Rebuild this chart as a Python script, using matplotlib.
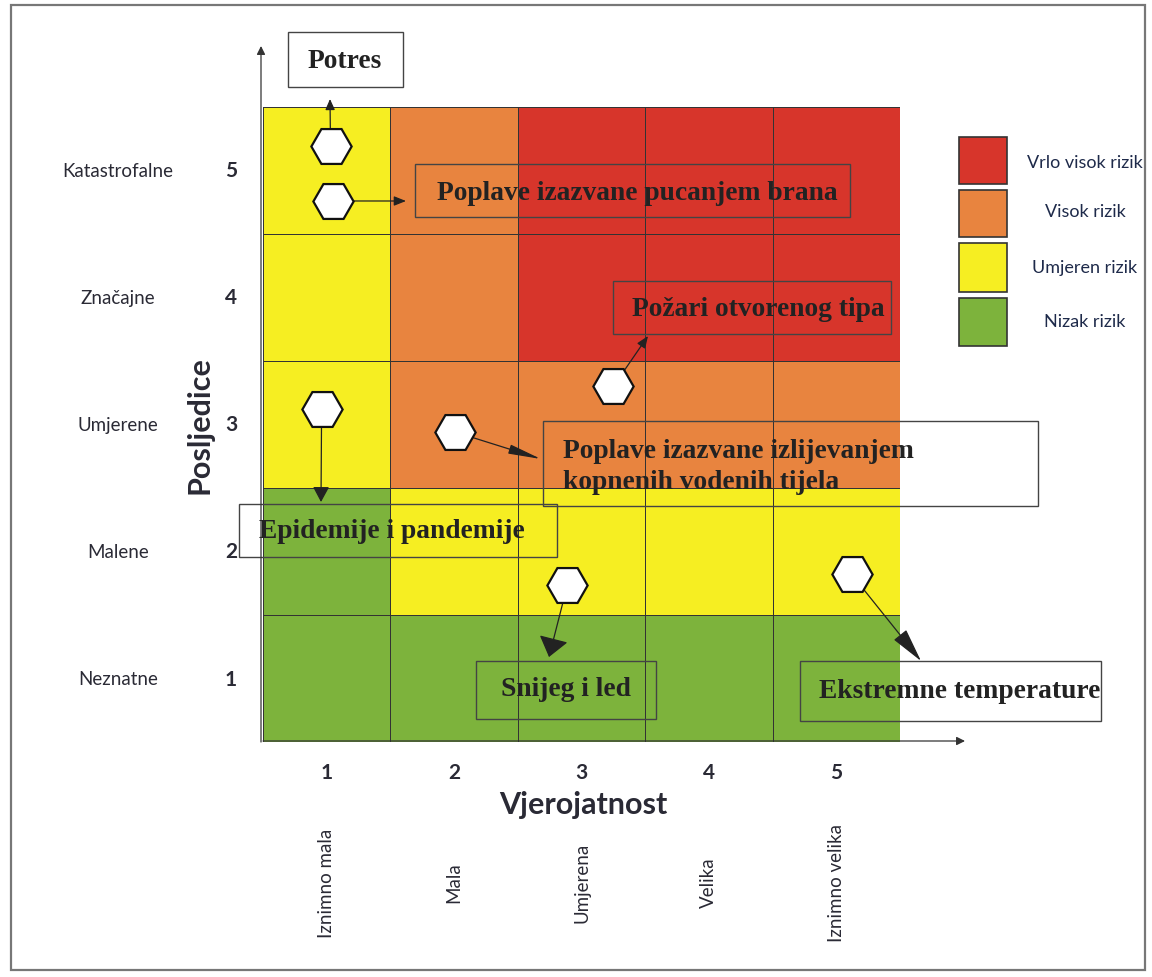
import numpy as np
import matplotlib.pyplot as plt
from matplotlib.colors import ListedColormap
from matplotlib.patches import Rectangle
from matplotlib.transforms import blended_transform_factory

# --- podaci ---
vjerojatnost = [1, 2, 3, 4, 5]
vjerojatnost_opis = ['Iznimno mala', 'Mala', 'Umjerena', 'Velika', 'Iznimno velika']
posljedice = [1, 2, 3, 4, 5]
posljedice_opis = ['Neznatne', 'Malene', 'Umjerene', 'Značajne', 'Katastrofalne']

# razina rizika po celiji (redovi = posljedice 1..5, stupci = vjerojatnost 1..5)
razina = [
    [0, 0, 0, 0, 0],
    [0, 1, 1, 1, 1],
    [1, 2, 2, 2, 2],
    [1, 2, 3, 3, 3],
    [1, 2, 3, 3, 3],
]
razine_naziv = ['Nizak rizik', 'Umjeren rizik', 'Visok rizik', 'Vrlo visok rizik']
razine_boja = ['#7db33c', '#f6ee22', '#e8843f', '#d7352b']

rizici = ['Potres', 'Poplave izazvane pucanjem brana', 'Požari otvorenog tipa',
          'Epidemije i pandemije',
          'Poplave izazvane izlijevanjem\nkopnenih vodenih tijela',
          'Snijeg i led', 'Ekstremne temperature']
rizik_x = [1.03, 1.05, 3.25, 0.96, 2.01, 2.89, 5.12]
rizik_y = [5.19, 4.76, 3.30, 3.12, 2.94, 1.74, 1.82]

# --- raspored (pikseli slike) ---
# okvir (x0, y0, x1, y1), polozaj teksta, poravnanje, vrh strelice, glava (duljina, pola sirine)
okviri = [
    ((288, 33, 403, 88), (345, 61), 'center', (330, 100), (9, 4)),
    ((415, 165, 850, 218), (637, 193), 'center', (406, 202), (10, 4)),
    ((613, 282, 891, 335), (758, 310), 'center', (648, 337), (10, 4)),
    ((239, 505, 557, 558), (392, 532), 'center', (321, 503), (13, 7)),
    ((543, 422, 1038, 507), (563, 467), 'left', (541, 460), (28, 4)),
    ((476, 662, 656, 720), (566, 690), 'center', (549, 658), (17, 13)),
    ((800, 662, 1101, 722), (960, 691), 'center', (921, 662), (30, 7)),
]

sans = 'Lato'
serif = 'Liberation Serif'
tamna = '#222222'
siva_tekst = '#2a2a35'

fig = plt.figure(figsize=(11.52, 9.78), dpi=100)
W, H = 1152, 978

ax = fig.add_axes([263 / W, 1 - 743 / H, 637 / W, 635 / H])
ov = fig.add_axes([0, 0, 1, 1])
ax.set_zorder(1)
ov.set_zorder(2)
ov.set_xlim(0, W)
ov.set_ylim(H, 0)
ov.axis('off')
ov.patch.set_alpha(0)

# matrica rizika
rubovi = np.arange(0.5, 6.0, 1.0)
ax.pcolormesh(rubovi, rubovi, np.array(razina), cmap=ListedColormap(razine_boja),
              vmin=-0.5, vmax=3.5, edgecolors='#333333', linewidth=0.7)
ax.set_xlim(0.5, 5.5)
ax.set_ylim(0.5, 5.5)
ax.axis('off')

# strelice od rizika do okvira
for (box, txt, ha, tip, head), hx, hy in zip(okviri, rizik_x, rizik_y):
    hl, hw = head
    ax.annotate('', xy=tip, xycoords=ov.transData, xytext=(hx, hy), textcoords='data',
                arrowprops=dict(arrowstyle=f'-|>,head_length={hl * 0.72},head_width={hw * 0.72}',
                                mutation_scale=1, color=tamna, lw=0.9, shrinkA=0, shrinkB=0),
                annotation_clip=False, zorder=3)

ax.plot(rizik_x, rizik_y, 'H', ms=29, mfc='white', mec='#111111', mew=1.6,
        clip_on=False, zorder=5)

# okviri s nazivima rizika
for naziv, (box, txt, ha, tip, head) in zip(rizici, okviri):
    x0, y0, x1, y1 = box
    ov.add_patch(Rectangle((x0, y0), x1 - x0, y1 - y0, fill=False, ec='#444444', lw=1.0))
    ov.text(txt[0], txt[1], naziv, ha=ha, va='center', family=serif, weight='bold',
            fontsize=19.8, color=tamna, linespacing=1.3)

# osi sa strelicama
ov.annotate('', xy=(261, 47), xytext=(261, 743),
            arrowprops=dict(arrowstyle='-|>,head_length=5,head_width=2.5', mutation_scale=1,
                            color='#333333', lw=0.9, shrinkA=0, shrinkB=0))
ov.annotate('', xy=(965, 742), xytext=(263, 742),
            arrowprops=dict(arrowstyle='-|>,head_length=5,head_width=2.5', mutation_scale=1,
                            color='#333333', lw=0.9, shrinkA=0, shrinkB=0))

# oznake posljedica (lijevo)
tr_y = blended_transform_factory(ov.transData, ax.transData)
for p, opis in zip(posljedice, posljedice_opis):
    ov.text(118, p, opis, transform=tr_y, ha='center', va='center', family=sans,
            fontsize=13.5, color=siva_tekst)
    ov.text(231, p, str(p), transform=tr_y, ha='center', va='center', family=sans,
            weight='bold', fontsize=15, color=siva_tekst)
ov.text(199, 425, 'Posljedice', rotation=90, ha='center', va='center', family=sans,
        weight='bold', fontsize=22, color=siva_tekst)

# oznake vjerojatnosti (dolje)
tr_x = blended_transform_factory(ax.transData, ov.transData)
for v, opis in zip(vjerojatnost, vjerojatnost_opis):
    ov.text(v, 773, str(v), transform=tr_x, ha='center', va='center', family=sans,
            weight='bold', fontsize=15, color=siva_tekst)
    ov.text(v, 883, opis, transform=tr_x, rotation=90, ha='center', va='center',
            family=sans, fontsize=13.5, color=siva_tekst)
ov.text(583, 805, 'Vjerojatnost', ha='center', va='center', family=sans,
        weight='bold', fontsize=22, color=siva_tekst)

# legenda
leg_y = [(299, 347), (244, 293), (191, 238), (138, 185)]
leg_tekst_y = [322, 268, 212, 163]
for naziv, boja, (ya, yb), ty in zip(razine_naziv, razine_boja, leg_y, leg_tekst_y):
    ov.add_patch(Rectangle((959, ya), 48, yb - ya, fc=boja, ec='#333333', lw=1.2))
    ov.text(1085, ty, naziv, ha='center', va='center', family=sans, fontsize=13,
            color='#1e2a4a')

# okvir skeniranog dokumenta
ov.add_patch(Rectangle((11, 6), 1134, 965, fill=False, ec='#777777', lw=1.6))

fig.savefig('out.png', dpi=100, facecolor='white')
